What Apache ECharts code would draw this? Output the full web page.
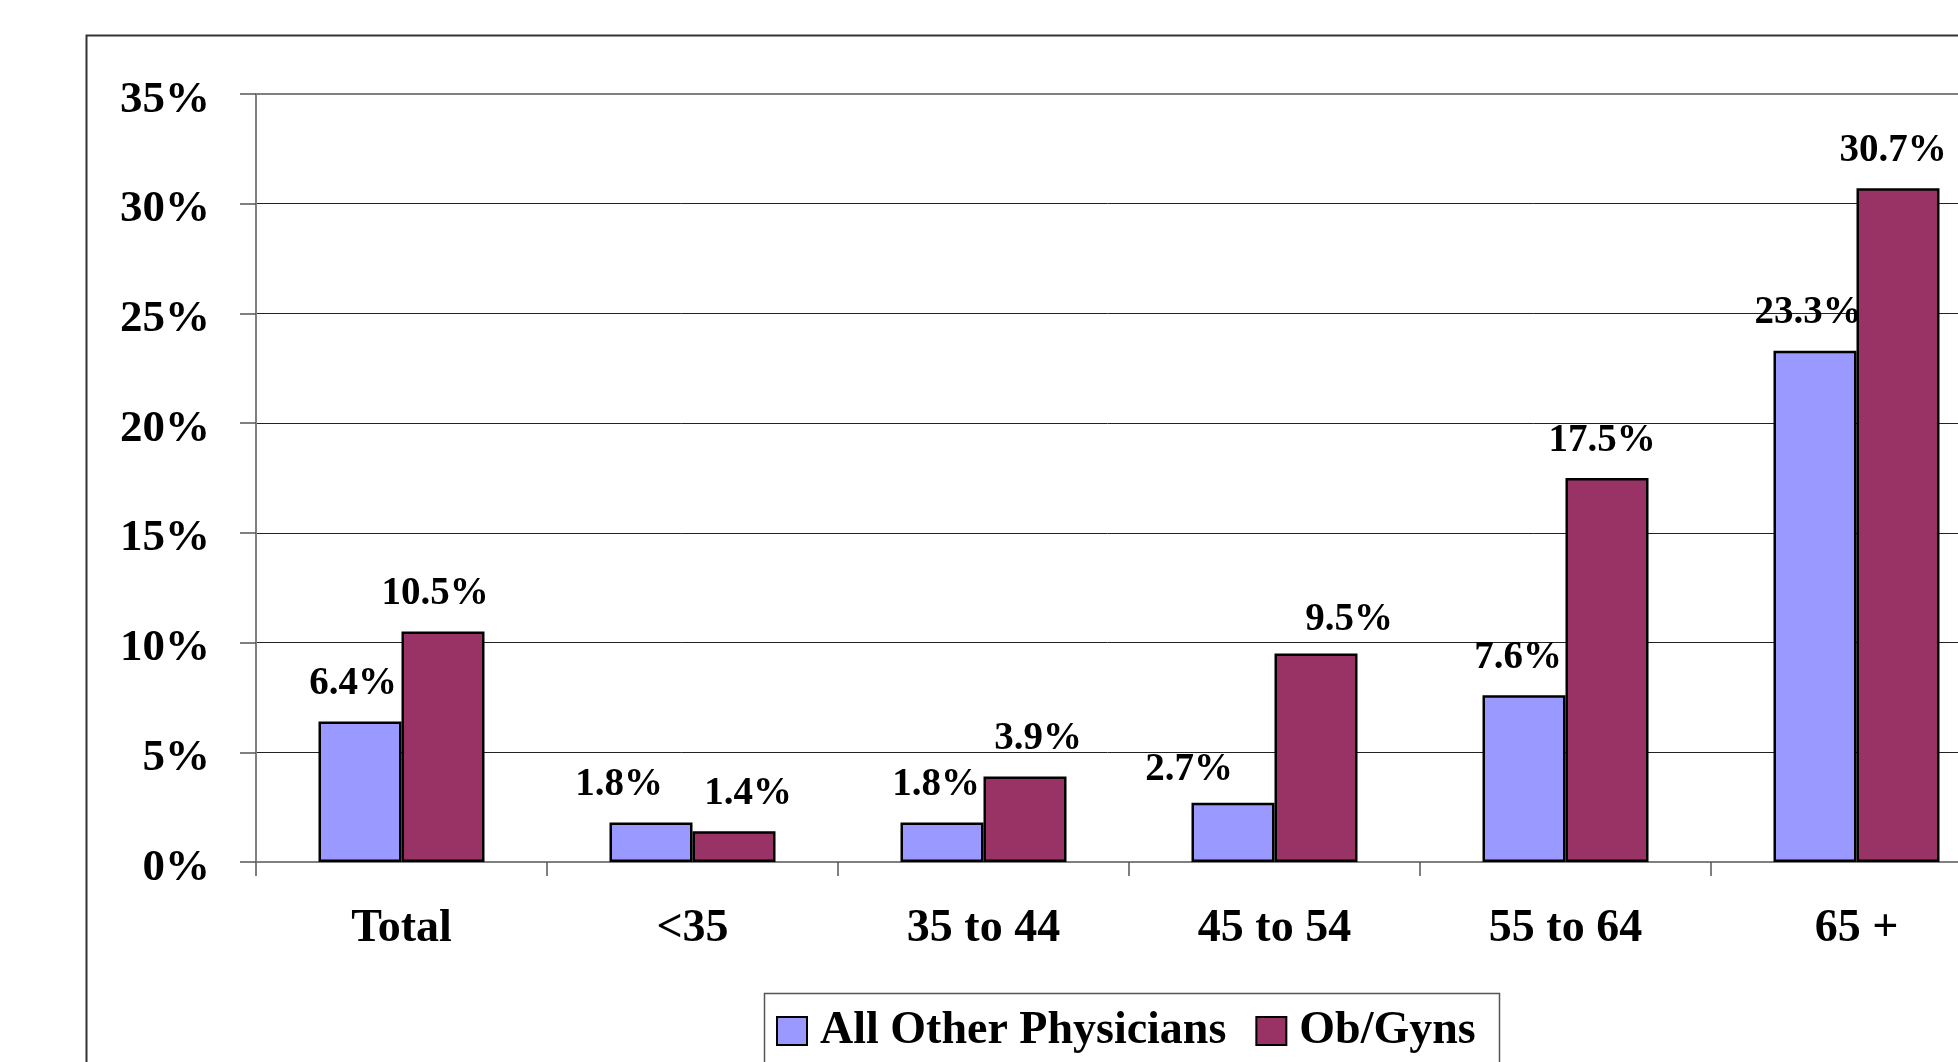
<!DOCTYPE html>
<html>
<head>
<meta charset="utf-8">
<script src="https://cdn.jsdelivr.net/npm/echarts@6/dist/echarts.min.js"></script>
<style>
html,body{margin:0;padding:0;background:#fff;}
#chart{width:1958px;height:1062px;}
</style>
</head>
<body>
<div id="chart"></div>
<script>
// ---- data ----
const categories = ['Total', '<35', '35 to 44', '45 to 54', '55 to 64', '65 +'];
const seriesNames = ['All Other Physicians', 'Ob/Gyns'];
const otherPhysicians = [6.4, 1.8, 1.8, 2.7, 7.6, 23.3];
const obGyns = [10.5, 1.4, 3.9, 9.5, 17.5, 30.7];
const yTicks = [0, 5, 10, 15, 20, 25, 30, 35];

// ---- label nudges (layout only) ----
const otherLabelNudge = [[-7, 0], [-32, 0], [-6, 0], [-44, 5], [-6, 0], [-7, 0]];
const obLabelNudge = [[-8, 0], [14, 0], [13, 0], [33, 4], [-5, 0], [-5, 0]];

const FONT = 'Liberation Serif';
const chart = echarts.init(document.getElementById('chart'), null, {renderer: 'canvas'});

function buildData(values, nudges) {
  return values.map((v, i) => ({value: v, label: {offset: nudges[i]}}));
}

const labelCfg = {
  show: true,
  position: 'top',
  distance: 18,
  formatter: '{c}%',
  fontFamily: FONT,
  fontWeight: 'bold',
  fontSize: 39,
  color: '#000'
};

const option = {
  animation: false,
  backgroundColor: '#fff',
  textStyle: {fontFamily: FONT, fontWeight: 'bold', color: '#000'},
  grid: {
    left: 256, right: -44, top: 94, bottom: 200,
    outerBoundsMode: 'none',
    containLabel: false,
    show: true, borderColor: '#808080', borderWidth: 2, backgroundColor: 'transparent'
  },
  legend: {
    left: 776, top: 1008,
    itemWidth: 30, itemHeight: 28,
    itemGap: 29,
    icon: 'rect',
    padding: 0,
    textStyle: {fontFamily: FONT, fontWeight: 'bold', fontSize: 46, color: '#000', padding: [0, 0, 0, 8]},
    itemStyle: {borderColor: '#000', borderWidth: 2},
    data: seriesNames
  },
  xAxis: {
    type: 'category',
    data: categories,
    boundaryGap: true,
    axisLine: {show: true, lineStyle: {color: '#808080', width: 2}},
    axisTick: {show: true, length: 14, lineStyle: {color: '#555', width: 1.5}},
    axisLabel: {fontFamily: FONT, fontWeight: 'bold', fontSize: 46, color: '#000', margin: 44, interval: 0}
  },
  yAxis: {
    type: 'value',
    min: yTicks[0], max: yTicks[yTicks.length - 1], interval: 5,
    axisLine: {show: true, lineStyle: {color: '#808080', width: 2}},
    axisTick: {show: true, length: 16, lineStyle: {color: '#555', width: 1.5}},
    axisLabel: {fontFamily: FONT, fontWeight: 'bold', fontSize: 45, color: '#000', margin: 46,
                verticalAlign: 'top', lineHeight: 12, formatter: '{value}%'},
    splitLine: {show: true, lineStyle: {color: ['#222', '#222', '#222', '#222', '#222', '#222', '#222', '#808080'], width: 1}}
  },
  graphic: [
    {type: 'rect', left: 84, top: 33, z: -10, silent: true,
     shape: {x: 0, y: 0, width: 2000, height: 1200},
     style: {fill: 'none', stroke: '#333', lineWidth: 2}},
    {type: 'rect', left: 762, top: 991, z: -10, silent: true,
     shape: {x: 0, y: 0, width: 735, height: 200},
     style: {fill: 'none', stroke: '#555', lineWidth: 1.5}}
  ],
  series: [
    {
      name: seriesNames[0], type: 'bar', barWidth: 83, barGap: '0%',
      itemStyle: {color: '#9999FF', borderColor: '#000', borderWidth: 2.5},
      label: labelCfg,
      data: buildData(otherPhysicians, otherLabelNudge)
    },
    {
      name: seriesNames[1], type: 'bar', barWidth: 83, barGap: '0%',
      itemStyle: {color: '#993366', borderColor: '#000', borderWidth: 2.5},
      label: labelCfg,
      data: buildData(obGyns, obLabelNudge)
    }
  ]
};
chart.setOption(option);
</script>
</body>
</html>
